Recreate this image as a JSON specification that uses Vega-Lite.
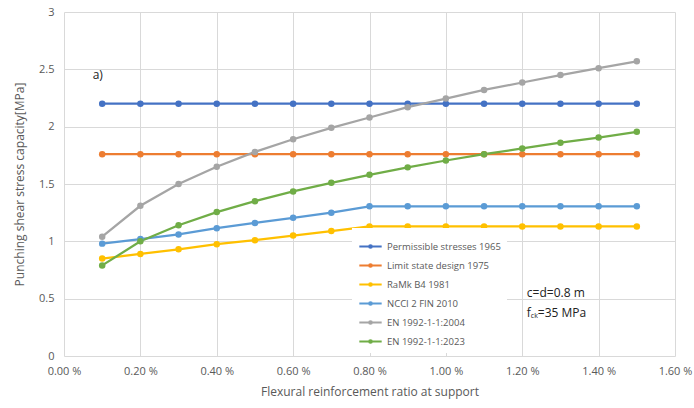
{
  "$schema": "https://vega.github.io/schema/vega-lite/v6.json",
  "width": 611,
  "height": 344,
  "autosize": {"type": "none"},
  "padding": {"left": 64, "top": 12, "right": 19, "bottom": 52},
  "background": "white",
  "config": {
    "font": "Open Sans",
    "view": {"stroke": null},
    "axis": {"labelColor": "#595959", "titleColor": "#595959", "labelFontSize": 11, "titleFontSize": 12, "titleFontWeight": "normal", "gridColor": "#D9D9D9", "domain": false, "ticks": false}
  },
  "datasets": {
    "series": [
      {"s": "Permissible stresses 1965", "x": 0.1, "y": 2.2}, {"s": "Permissible stresses 1965", "x": 0.2, "y": 2.2}, {"s": "Permissible stresses 1965", "x": 0.3, "y": 2.2}, {"s": "Permissible stresses 1965", "x": 0.4, "y": 2.2}, {"s": "Permissible stresses 1965", "x": 0.5, "y": 2.2}, {"s": "Permissible stresses 1965", "x": 0.6, "y": 2.2}, {"s": "Permissible stresses 1965", "x": 0.7, "y": 2.2}, {"s": "Permissible stresses 1965", "x": 0.8, "y": 2.2}, {"s": "Permissible stresses 1965", "x": 0.9, "y": 2.2}, {"s": "Permissible stresses 1965", "x": 1.0, "y": 2.2}, {"s": "Permissible stresses 1965", "x": 1.1, "y": 2.2}, {"s": "Permissible stresses 1965", "x": 1.2, "y": 2.2}, {"s": "Permissible stresses 1965", "x": 1.3, "y": 2.2}, {"s": "Permissible stresses 1965", "x": 1.4, "y": 2.2}, {"s": "Permissible stresses 1965", "x": 1.5, "y": 2.2},
      {"s": "Limit state design 1975", "x": 0.1, "y": 1.76}, {"s": "Limit state design 1975", "x": 0.2, "y": 1.76}, {"s": "Limit state design 1975", "x": 0.3, "y": 1.76}, {"s": "Limit state design 1975", "x": 0.4, "y": 1.76}, {"s": "Limit state design 1975", "x": 0.5, "y": 1.76}, {"s": "Limit state design 1975", "x": 0.6, "y": 1.76}, {"s": "Limit state design 1975", "x": 0.7, "y": 1.76}, {"s": "Limit state design 1975", "x": 0.8, "y": 1.76}, {"s": "Limit state design 1975", "x": 0.9, "y": 1.76}, {"s": "Limit state design 1975", "x": 1.0, "y": 1.76}, {"s": "Limit state design 1975", "x": 1.1, "y": 1.76}, {"s": "Limit state design 1975", "x": 1.2, "y": 1.76}, {"s": "Limit state design 1975", "x": 1.3, "y": 1.76}, {"s": "Limit state design 1975", "x": 1.4, "y": 1.76}, {"s": "Limit state design 1975", "x": 1.5, "y": 1.76},
      {"s": "RaMk B4 1981", "x": 0.1, "y": 0.85}, {"s": "RaMk B4 1981", "x": 0.2, "y": 0.89}, {"s": "RaMk B4 1981", "x": 0.3, "y": 0.93}, {"s": "RaMk B4 1981", "x": 0.4, "y": 0.975}, {"s": "RaMk B4 1981", "x": 0.5, "y": 1.01}, {"s": "RaMk B4 1981", "x": 0.6, "y": 1.05}, {"s": "RaMk B4 1981", "x": 0.7, "y": 1.09}, {"s": "RaMk B4 1981", "x": 0.8, "y": 1.13}, {"s": "RaMk B4 1981", "x": 0.9, "y": 1.13}, {"s": "RaMk B4 1981", "x": 1.0, "y": 1.13}, {"s": "RaMk B4 1981", "x": 1.1, "y": 1.13}, {"s": "RaMk B4 1981", "x": 1.2, "y": 1.13}, {"s": "RaMk B4 1981", "x": 1.3, "y": 1.13}, {"s": "RaMk B4 1981", "x": 1.4, "y": 1.13}, {"s": "RaMk B4 1981", "x": 1.5, "y": 1.13},
      {"s": "NCCI 2 FIN 2010", "x": 0.1, "y": 0.98}, {"s": "NCCI 2 FIN 2010", "x": 0.2, "y": 1.02}, {"s": "NCCI 2 FIN 2010", "x": 0.3, "y": 1.06}, {"s": "NCCI 2 FIN 2010", "x": 0.4, "y": 1.115}, {"s": "NCCI 2 FIN 2010", "x": 0.5, "y": 1.16}, {"s": "NCCI 2 FIN 2010", "x": 0.6, "y": 1.205}, {"s": "NCCI 2 FIN 2010", "x": 0.7, "y": 1.25}, {"s": "NCCI 2 FIN 2010", "x": 0.8, "y": 1.305}, {"s": "NCCI 2 FIN 2010", "x": 0.9, "y": 1.305}, {"s": "NCCI 2 FIN 2010", "x": 1.0, "y": 1.305}, {"s": "NCCI 2 FIN 2010", "x": 1.1, "y": 1.305}, {"s": "NCCI 2 FIN 2010", "x": 1.2, "y": 1.305}, {"s": "NCCI 2 FIN 2010", "x": 1.3, "y": 1.305}, {"s": "NCCI 2 FIN 2010", "x": 1.4, "y": 1.305}, {"s": "NCCI 2 FIN 2010", "x": 1.5, "y": 1.305},
      {"s": "EN 1992-1-1:2004", "x": 0.1, "y": 1.04}, {"s": "EN 1992-1-1:2004", "x": 0.2, "y": 1.31}, {"s": "EN 1992-1-1:2004", "x": 0.3, "y": 1.50}, {"s": "EN 1992-1-1:2004", "x": 0.4, "y": 1.65}, {"s": "EN 1992-1-1:2004", "x": 0.5, "y": 1.78}, {"s": "EN 1992-1-1:2004", "x": 0.6, "y": 1.89}, {"s": "EN 1992-1-1:2004", "x": 0.7, "y": 1.99}, {"s": "EN 1992-1-1:2004", "x": 0.8, "y": 2.08}, {"s": "EN 1992-1-1:2004", "x": 0.9, "y": 2.17}, {"s": "EN 1992-1-1:2004", "x": 1.0, "y": 2.245}, {"s": "EN 1992-1-1:2004", "x": 1.1, "y": 2.32}, {"s": "EN 1992-1-1:2004", "x": 1.2, "y": 2.385}, {"s": "EN 1992-1-1:2004", "x": 1.3, "y": 2.45}, {"s": "EN 1992-1-1:2004", "x": 1.4, "y": 2.51}, {"s": "EN 1992-1-1:2004", "x": 1.5, "y": 2.57},
      {"s": "EN 1992-1-1:2023", "x": 0.1, "y": 0.79}, {"s": "EN 1992-1-1:2023", "x": 0.2, "y": 1.0}, {"s": "EN 1992-1-1:2023", "x": 0.3, "y": 1.14}, {"s": "EN 1992-1-1:2023", "x": 0.4, "y": 1.255}, {"s": "EN 1992-1-1:2023", "x": 0.5, "y": 1.35}, {"s": "EN 1992-1-1:2023", "x": 0.6, "y": 1.435}, {"s": "EN 1992-1-1:2023", "x": 0.7, "y": 1.51}, {"s": "EN 1992-1-1:2023", "x": 0.8, "y": 1.58}, {"s": "EN 1992-1-1:2023", "x": 0.9, "y": 1.645}, {"s": "EN 1992-1-1:2023", "x": 1.0, "y": 1.705}, {"s": "EN 1992-1-1:2023", "x": 1.1, "y": 1.76}, {"s": "EN 1992-1-1:2023", "x": 1.2, "y": 1.81}, {"s": "EN 1992-1-1:2023", "x": 1.3, "y": 1.86}, {"s": "EN 1992-1-1:2023", "x": 1.4, "y": 1.905}, {"s": "EN 1992-1-1:2023", "x": 1.5, "y": 1.955}
    ],
    "notes": [
      {"x": 0.075, "y": 2.45, "t": "a)"},
      {"x": 1.212, "y": 0.55, "t": "c=d=0.8 m"}
    ],
    "fck": [
      {"x": 1.212, "y": 0.375}
    ]
  },
  "layer": [
    {
      "data": {"name": "series"},
      "mark": {"type": "line", "strokeWidth": 2.25, "point": {"size": 42, "filled": true, "opacity": 1}},
      "encoding": {
        "x": {"field": "x", "type": "quantitative", "scale": {"domain": [0, 1.6], "nice": false, "zero": false},
          "axis": {"values": [0, 0.2, 0.4, 0.6, 0.8, 1.0, 1.2, 1.4, 1.6], "labelExpr": "format(datum.value, '.2f') + ' %'", "labelPadding": 9, "title": "Flexural reinforcement ratio at support", "titlePadding": 10, "labelFlush": false}},
        "y": {"field": "y", "type": "quantitative", "scale": {"domain": [0, 3], "nice": false},
          "axis": {"values": [0, 0.5, 1, 1.5, 2, 2.5, 3], "format": "~g", "labelPadding": 10, "title": "Punching shear stress capacity[MPa]", "titlePadding": 12}},
        "color": {"field": "s", "type": "nominal",
          "scale": {"domain": ["Permissible stresses 1965", "Limit state design 1975", "RaMk B4 1981", "NCCI 2 FIN 2010", "EN 1992-1-1:2004", "EN 1992-1-1:2023"],
                    "range": ["#4472C4", "#ED7D31", "#FFC000", "#5B9BD5", "#A5A5A5", "#70AD47"]},
          "legend": {"orient": "none", "legendX": 288, "legendY": 216, "title": null, "fillColor": "white", "padding": 6,
            "labelColor": "#595959", "labelFontSize": 9.5, "labelLimit": 200,
            "symbolType": "M-1,0H1M-0.12,0A0.12,0.12,0,1,1,0.12,0A0.12,0.12,0,1,1,-0.12,0", "symbolSize": 500, "symbolStrokeWidth": 2, "rowPadding": 1, "labelOffset": 4}},
        "detail": {"field": "s"}
      }
    },
    {
      "data": {"name": "notes"},
      "mark": {"type": "text", "align": "left", "baseline": "middle", "fontSize": 12, "color": "#222222"},
      "encoding": {"x": {"field": "x", "type": "quantitative"}, "y": {"field": "y", "type": "quantitative"}, "text": {"field": "t"}}
    },
    {
      "data": {"name": "fck"},
      "layer": [
        {"mark": {"type": "text", "align": "left", "baseline": "middle", "fontSize": 12, "color": "#222222", "text": "f"}},
        {"mark": {"type": "text", "align": "left", "baseline": "middle", "fontSize": 7, "color": "#222222", "text": "ck", "dx": 4, "dy": 3}},
        {"mark": {"type": "text", "align": "left", "baseline": "middle", "fontSize": 12, "color": "#222222", "text": "=35 MPa", "dx": 11}}
      ],
      "encoding": {"x": {"field": "x", "type": "quantitative"}, "y": {"field": "y", "type": "quantitative"}}
    }
  ]
}
